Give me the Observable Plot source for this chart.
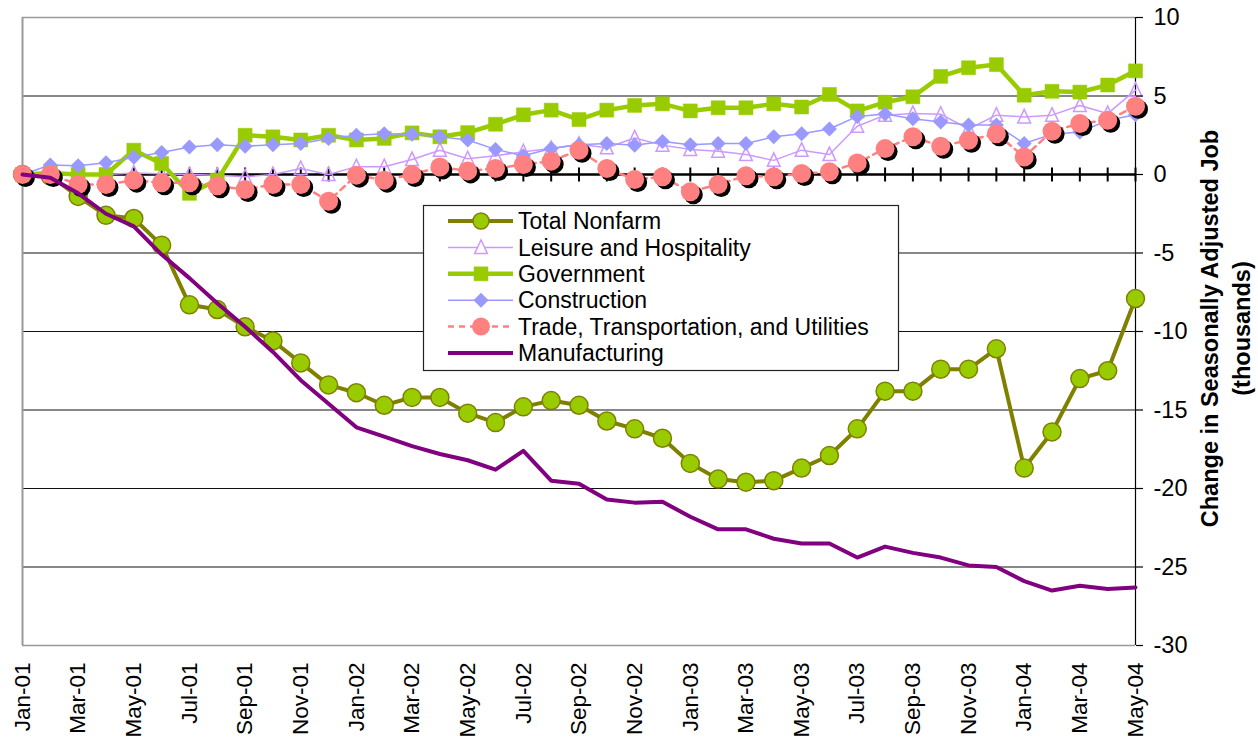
<!DOCTYPE html>
<html>
<head>
<meta charset="utf-8">
<script src="https://cdn.jsdelivr.net/npm/d3@7"></script>
<script src="https://cdn.jsdelivr.net/npm/@observablehq/plot@0.6"></script>
<style>
  html, body { margin: 0; padding: 0; background: #fff; }
  #chart { width: 1258px; height: 738px; overflow: hidden; }
</style>
</head>
<body>
<div id="chart"></div>
<script>
const months = ["Jan-01","Feb-01","Mar-01","Apr-01","May-01","Jun-01","Jul-01","Aug-01","Sep-01","Oct-01","Nov-01","Dec-01",
  "Jan-02","Feb-02","Mar-02","Apr-02","May-02","Jun-02","Jul-02","Aug-02","Sep-02","Oct-02","Nov-02","Dec-02",
  "Jan-03","Feb-03","Mar-03","Apr-03","May-03","Jun-03","Jul-03","Aug-03","Sep-03","Oct-03","Nov-03","Dec-03",
  "Jan-04","Feb-04","Mar-04","Apr-04","May-04"];
const xTickLabels = ["Jan-01","Mar-01","May-01","Jul-01","Sep-01","Nov-01","Jan-02","Mar-02","May-02","Jul-02","Sep-02","Nov-02",
  "Jan-03","Mar-03","May-03","Jul-03","Sep-03","Nov-03","Jan-04","Mar-04","May-04"];
const yTicks = [10, 5, 0, -5, -10, -15, -20, -25, -30];

const totalNonfarm = [0, -0.1, -1.4, -2.6, -2.8, -4.5, -8.3, -8.6, -9.7, -10.6, -12.0, -13.4, -13.9, -14.7, -14.2, -14.2, -15.2, -15.8, -14.8, -14.4, -14.7, -15.7, -16.2, -16.8, -18.4, -19.4, -19.6, -19.5, -18.7, -17.9, -16.2, -13.8, -13.8, -12.4, -12.4, -11.1, -18.7, -16.4, -13.0, -12.5, -7.9];
const leisure = [0, 0, 0, 0, 0.1, 0.05, 0, -0.05, -0.15, 0, 0.38, 0, 0.5, 0.5, 0.95, 1.55, 1.0, 1.2, 1.45, 1.65, 1.93, 1.7, 2.33, 1.87, 1.6, 1.48, 1.27, 0.9, 1.55, 1.27, 3.07, 3.78, 3.88, 3.84, 2.9, 3.78, 3.67, 3.78, 4.4, 3.88, 5.37];
const government = [0, 0.1, 0, 0, 1.55, 0.7, -1.2, -0.36, 2.5, 2.4, 2.2, 2.5, 2.2, 2.3, 2.65, 2.4, 2.67, 3.2, 3.8, 4.1, 3.5, 4.1, 4.4, 4.5, 4.05, 4.25, 4.25, 4.5, 4.3, 5.1, 4.05, 4.6, 4.95, 6.25, 6.8, 7.0, 5.05, 5.3, 5.25, 5.7, 6.6];
const construction = [0, 0.6, 0.55, 0.75, 1.1, 1.4, 1.75, 1.9, 1.8, 1.9, 1.97, 2.3, 2.5, 2.6, 2.57, 2.4, 2.2, 1.6, 1.2, 1.65, 1.9, 1.97, 1.87, 2.1, 1.9, 1.97, 1.97, 2.4, 2.6, 2.9, 3.7, 3.85, 3.55, 3.35, 3.15, 3.15, 1.97, 2.57, 2.7, 3.45, 3.8];
const trade = [0, 0, -0.64, -0.64, -0.36, -0.53, -0.53, -0.72, -0.96, -0.64, -0.64, -1.7, -0.04, -0.36, 0, 0.48, 0.23, 0.38, 0.64, 0.85, 1.55, 0.38, -0.32, -0.15, -1.1, -0.64, -0.08, -0.15, 0.06, 0.17, 0.74, 1.65, 2.4, 1.8, 2.18, 2.6, 1.12, 2.76, 3.25, 3.45, 4.35];
const manufacturing = [0, -0.2, -1.2, -2.5, -3.3, -5.1, -6.6, -8.2, -9.7, -11.3, -13.1, -14.6, -16.1, -16.7, -17.3, -17.8, -18.2, -18.8, -17.6, -19.5, -19.7, -20.7, -20.9, -20.85, -21.8, -22.6, -22.6, -23.2, -23.5, -23.5, -24.4, -23.7, -24.1, -24.4, -24.9, -25.0, -25.9, -26.5, -26.2, -26.4, -26.3];

const seriesNames = ["Total Nonfarm", "Leisure and Hospitality", "Government", "Construction", "Trade, Transportation, and Utilities", "Manufacturing"];
const yTitle = "Change in Seasonally Adjusted Job\n(thousands)";

const toRows = arr => months.map((m, i) => ({m, v: arr[i]}));

// custom marker shapes
const diamondSym = {draw(c, size) { const r = Math.sqrt(size / Math.PI); c.moveTo(0, -r); c.lineTo(r, 0); c.lineTo(0, r); c.lineTo(-r, 0); c.closePath(); }};
const squareSym = {draw(c, size) { const r = Math.sqrt(size / Math.PI); c.moveTo(-r, -r); c.lineTo(r, -r); c.lineTo(r, r); c.lineTo(-r, r); c.closePath(); }};
const triSym = {draw(c, size) { const r = Math.sqrt(size / Math.PI); c.moveTo(0, -r); c.lineTo(r * 0.85, r * 0.8); c.lineTo(-r * 0.85, r * 0.8); c.closePath(); }};
const vtickSym = {draw(c, size) { const r = Math.sqrt(size / Math.PI); c.moveTo(0, -r); c.lineTo(0, r); }};

const C = {
  olive: "#808000", green: "#99CC00", lav: "#CC99FF", peri: "#9999FF", salmon: "#FF8080", purple: "#800080"
};
const FONT = "'Liberation Sans', Arial, sans-serif";

const nf = toRows(totalNonfarm), le = toRows(leisure), gov = toRows(government),
      con = toRows(construction), tr = toRows(trade), man = toRows(manufacturing);

const chart = Plot.plot({
  width: 1258,
  height: 738,
  marginTop: 17,
  marginLeft: 22,
  marginRight: 123,
  marginBottom: 93,
  style: {fontFamily: FONT, fontSize: "23.5px", background: "white", color: "black", overflow: "visible"},
  x: {type: "point", domain: months, padding: 0},
  y: {domain: [-30, 10]},
  marks: [
    Plot.gridY(yTicks.filter(d => d !== 0 && d !== 10 && d !== -30), {stroke: "#111", strokeOpacity: 1, strokeWidth: 1}),
    Plot.ruleY([10, -30], {stroke: "#9a9a9a", strokeWidth: 1.5}),
    Plot.ruleX([months[0]], {stroke: "#9a9a9a", strokeWidth: 2}),
    Plot.ruleX([months[months.length - 1]], {stroke: "black", strokeWidth: 1.2}),
    Plot.ruleY([0], {stroke: "black", strokeWidth: 2.5}),
    Plot.dot(months, {x: d => d, y: 0, symbol: vtickSym, r: 7, stroke: "black", strokeWidth: 2}),
    // Total Nonfarm
    Plot.line(nf, {x: "m", y: "v", stroke: C.olive, strokeWidth: 4}),
    Plot.dot(nf, {x: "m", y: "v", r: 9, fill: C.green, stroke: C.olive, strokeWidth: 1.5}),
    // Leisure
    Plot.line(le, {x: "m", y: "v", stroke: C.lav, strokeWidth: 1.5}),
    Plot.dot(le, {x: "m", y: "v", r: 7.5, symbol: triSym, fill: "none", stroke: C.lav, strokeWidth: 1.5}),
    // Government
    Plot.line(gov, {x: "m", y: "v", stroke: C.green, strokeWidth: 4.5}),
    Plot.dot(gov, {x: "m", y: "v", r: 7, symbol: squareSym, fill: C.green, stroke: C.green, strokeWidth: 0.5}),
    // Construction
    Plot.line(con, {x: "m", y: "v", stroke: C.peri, strokeWidth: 1.5}),
    Plot.dot(con, {x: "m", y: "v", r: 7.5, symbol: diamondSym, fill: C.peri}),
    // Trade
    Plot.line(tr, {x: "m", y: "v", stroke: C.salmon, strokeWidth: 2.5, strokeDasharray: "6,5"}),
    Plot.dot(tr, {x: "m", y: "v", r: 9.5, fill: "black", dx: 3, dy: 3}),
    Plot.dot(tr, {x: "m", y: "v", r: 9.5, fill: C.salmon}),
    // Manufacturing
    Plot.line(man, {x: "m", y: "v", stroke: C.purple, strokeWidth: 4}),
    // axes
    Plot.axisY(yTicks, {anchor: "right", tickSize: 7, tickPadding: 11, tickFormat: d => String(d), label: null, stroke: "black", strokeWidth: 1.2}),
    Plot.axisX(xTickLabels, {anchor: "bottom", tickRotate: -90, tickSize: 0, tickPadding: 17, fontSize: 22.5, label: null}),
    Plot.text([yTitle], {frameAnchor: "right", dx: 88, dy: -3, rotate: -90, fontWeight: "bold", fontSize: 23.5, lineHeight: 1.38, textAnchor: "middle", fill: "black"})
  ]
});

document.getElementById("chart").appendChild(chart);

// legend box inside the plot area
const svg = d3.select(chart);
const lg = svg.append("g").attr("font-family", FONT).attr("font-size", 23).attr("text-anchor", "start");
lg.append("rect").attr("x", 423.5).attr("y", 205.5).attr("width", 475).attr("height", 165)
  .attr("fill", "white").attr("stroke", "#222").attr("stroke-width", 1.2);
const legendSpec = [
  {line: C.olive, w: 4, dash: null, sym: d3.symbolCircle, r: 8, fill: C.green, stroke: C.olive, sw: 1.5},
  {line: C.lav, w: 1.5, dash: null, sym: triSym, r: 7.5, fill: "white", stroke: C.lav, sw: 1.5},
  {line: C.green, w: 4.5, dash: null, sym: squareSym, r: 7, fill: C.green, stroke: C.green, sw: 0.5},
  {line: C.peri, w: 1.5, dash: null, sym: diamondSym, r: 7.5, fill: C.peri, stroke: "none", sw: 0},
  {line: C.salmon, w: 2.5, dash: "6,5", sym: d3.symbolCircle, r: 9, fill: C.salmon, stroke: "none", sw: 0},
  {line: C.purple, w: 4, dash: null, sym: null}
];
seriesNames.forEach((name, i) => {
  const s = legendSpec[i];
  const cy = 221 + i * 26.4;
  const row = lg.append("g");
  const ln = row.append("line").attr("x1", 448).attr("x2", 513).attr("y1", cy).attr("y2", cy)
    .attr("stroke", s.line).attr("stroke-width", s.w);
  if (s.dash) ln.attr("stroke-dasharray", s.dash);
  if (s.sym) {
    row.append("path").attr("transform", `translate(481,${cy})`)
      .attr("d", d3.symbol().type(s.sym).size(Math.PI * s.r * s.r)())
      .attr("fill", s.fill).attr("stroke", s.stroke).attr("stroke-width", s.sw);
  }
  row.append("text").attr("x", 518).attr("y", cy).attr("dy", "0.36em").attr("text-anchor", "start").attr("fill", "black").text(name);
});
</script>
</body>
</html>
